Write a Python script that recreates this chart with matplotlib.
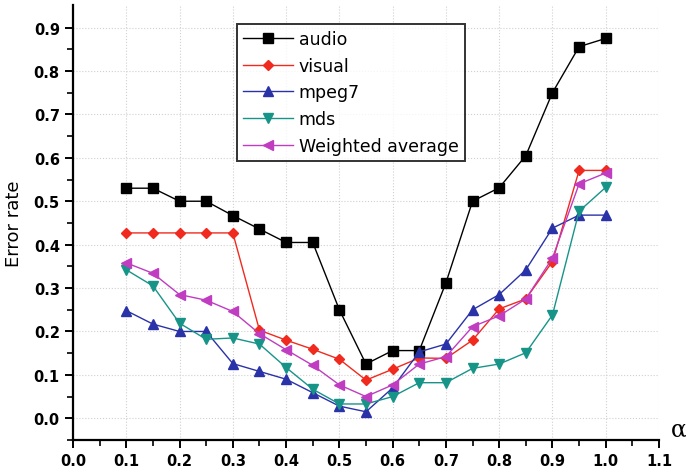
import matplotlib
matplotlib.use('Agg')
import matplotlib.pyplot as plt
import matplotlib.ticker as ticker

alpha = [0.1, 0.15, 0.2, 0.25, 0.3, 0.35, 0.4, 0.45, 0.5, 0.55,
         0.6, 0.65, 0.7, 0.75, 0.8, 0.85, 0.9, 0.95, 1.0]

audio = [0.53, 0.53, 0.50, 0.50, 0.467, 0.436, 0.405, 0.405, 0.25, 0.125,
         0.156, 0.156, 0.312, 0.50, 0.531, 0.605, 0.75, 0.856, 0.875]
visual = [0.427, 0.427, 0.427, 0.427, 0.427, 0.203, 0.18, 0.159, 0.136, 0.088,
          0.113, 0.139, 0.138, 0.18, 0.252, 0.275, 0.361, 0.571, 0.571]
mpeg7 = [0.248, 0.217, 0.20, 0.20, 0.126, 0.108, 0.09, 0.059, 0.028, 0.015,
         0.07, 0.153, 0.171, 0.25, 0.285, 0.342, 0.438, 0.468, 0.468]
mds = [0.342, 0.305, 0.219, 0.182, 0.185, 0.171, 0.117, 0.067, 0.033, 0.033,
       0.05, 0.082, 0.082, 0.115, 0.125, 0.151, 0.238, 0.477, 0.532]
weighted = [0.358, 0.334, 0.285, 0.272, 0.246, 0.195, 0.158, 0.122, 0.077, 0.05,
            0.077, 0.125, 0.142, 0.211, 0.236, 0.275, 0.369, 0.54, 0.565]

series = [
    ("audio", audio, 's', 'black'),
    ("visual", visual, 'D', '#f02a1e'),
    ("mpeg7", mpeg7, '^', '#2a32a8'),
    ("mds", mds, 'v', '#179488'),
    ("Weighted average", weighted, '<', '#c03cc0'),
]

fig = plt.figure(figsize=(6.86, 4.77), dpi=100)
ax = fig.add_axes([73/686, 1 - 441/477, (659-73)/686, (441-6)/477])

for nom, vals, m, c in series:
    ms = 5.5 if m == 'D' else 6.5
    ax.plot(alpha, vals, marker=m, color=c, markersize=ms, linewidth=1.0, label=nom)

ax.set_xlim(0, 1.1)
ax.set_ylim(-0.05, 0.952)
ax.xaxis.set_major_locator(ticker.MultipleLocator(0.1))
ax.xaxis.set_minor_locator(ticker.MultipleLocator(0.05))
ax.yaxis.set_major_locator(ticker.FixedLocator([0.0, 0.1, 0.2, 0.3, 0.4, 0.5, 0.6, 0.7, 0.8, 0.9]))
ax.yaxis.set_minor_locator(ticker.FixedLocator([-0.05, 0.05, 0.15, 0.25, 0.35, 0.45, 0.55, 0.65, 0.75, 0.85]))
ax.xaxis.set_major_formatter(ticker.FormatStrFormatter('%.1f'))
ax.yaxis.set_major_formatter(ticker.FormatStrFormatter('%.1f'))

ax.spines['top'].set_visible(False)
ax.spines['right'].set_visible(False)
ax.spines['left'].set_linewidth(1.6)
ax.spines['bottom'].set_linewidth(1.6)
ax.tick_params(which='major', direction='out', length=6, width=1.4, labelsize=10.5)
ax.tick_params(which='minor', direction='out', length=4, width=1.2)
for lab in ax.get_xticklabels() + ax.get_yticklabels():
    lab.set_fontweight('bold')

ax.grid(True, which='major', color='#d0d0d0', linestyle=':', linewidth=0.8)

ax.set_ylabel("Error rate", fontsize=13)
ax.yaxis.set_label_coords(-0.085, 0.5)
fig.text(679/686, 1 - 430/477, "α", fontsize=17, family='DejaVu Serif', ha='center', va='center')

leg = ax.legend(loc='upper left', bbox_to_anchor=((237-73)/586, (441-25)/435),
                fontsize=12.5, handlelength=2.9, frameon=True, fancybox=False,
                borderaxespad=0, labelspacing=0.5, borderpad=0.35, handletextpad=0.3)
leg.get_frame().set_edgecolor('black')
leg.get_frame().set_linewidth(1.4)

fig.savefig("out.png", dpi=100)
